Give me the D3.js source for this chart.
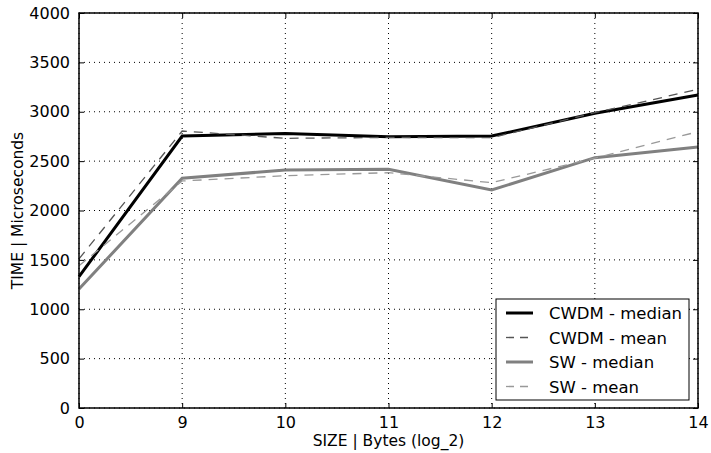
<!DOCTYPE html>
<html>
<head>
<meta charset="utf-8">
<script src="https://cdn.jsdelivr.net/npm/d3@7"></script>
<style>
  body { margin: 0; background: #fff; }
  svg { display: block; font-family: "DejaVu Sans", sans-serif; }
</style>
</head>
<body>
<div id="chart"></div>
<script>
// message size categories (log_2 bytes)
const sizes = ["0", "9", "10", "11", "12", "13", "14"];
const cwdmMedian = [1330, 2754, 2781, 2747, 2754, 2984, 3170];
const cwdmMean   = [1510, 2805, 2731, 2740, 2737, 2990, 3227];
const swMedian   = [1205, 2326, 2410, 2417, 2208, 2535, 2643];
const swMean     = [1440, 2299, 2352, 2383, 2282, 2530, 2798];
const yTicks = [0, 500, 1000, 1500, 2000, 2500, 3000, 3500, 4000];

const series = [
  { name: "CWDM - median", values: cwdmMedian, color: "#000000", width: 3, dash: null },
  { name: "CWDM - mean",   values: cwdmMean,   color: "#555555", width: 1.3, dash: "9,7" },
  { name: "SW - median",   values: swMedian,   color: "#808080", width: 3, dash: null },
  { name: "SW - mean",     values: swMean,     color: "#999999", width: 1.3, dash: "9,7" }
];

const width = 711, height = 453;
const margin = { top: 13, right: 13, bottom: 45, left: 79 };
const innerW = width - margin.left - margin.right;
const innerH = height - margin.top - margin.bottom;

const svg = d3.select("#chart").append("svg")
  .attr("width", width)
  .attr("height", height);

const g = svg.append("g")
  .attr("transform", `translate(${margin.left},${margin.top})`);

const x = d3.scalePoint().domain(sizes).range([0, innerW]);
const y = d3.scaleLinear().domain([0, 4000]).range([innerH, 0]);

// dotted grid
g.append("g")
  .selectAll("line.hgrid")
  .data(yTicks)
  .enter().append("line")
  .attr("x1", 0).attr("x2", innerW)
  .attr("y1", d => y(d)).attr("y2", d => y(d))
  .attr("stroke", "#000")
  .attr("stroke-width", 1)
  .attr("stroke-dasharray", "1,4");

g.append("g")
  .selectAll("line.vgrid")
  .data(sizes)
  .enter().append("line")
  .attr("x1", d => x(d)).attr("x2", d => x(d))
  .attr("y1", 0).attr("y2", innerH)
  .attr("stroke", "#000")
  .attr("stroke-width", 1)
  .attr("stroke-dasharray", "1,4");

// lines
const line = d3.line()
  .x((d, i) => x(sizes[i]))
  .y(d => y(d));

series.forEach(s => {
  g.append("path")
    .datum(s.values)
    .attr("fill", "none")
    .attr("stroke", s.color)
    .attr("stroke-width", s.width)
    .attr("stroke-dasharray", s.dash)
    .attr("d", line);
});

// axes with inward ticks
const axisFont = "16px";
g.append("g")
  .attr("transform", `translate(0,${innerH})`)
  .call(d3.axisBottom(x).tickSizeInner(-5).tickSizeOuter(0).tickPadding(9));
g.append("g")
  .call(d3.axisLeft(y).tickValues(yTicks).tickFormat(d3.format("d"))
    .tickSizeInner(-5).tickSizeOuter(0).tickPadding(9));
g.append("g")
  .call(d3.axisTop(x).tickSizeInner(-5).tickSizeOuter(0).tickFormat(""));
g.append("g")
  .attr("transform", `translate(${innerW},0)`)
  .call(d3.axisRight(y).tickValues(yTicks).tickSizeInner(-5).tickSizeOuter(0).tickFormat(""));

g.selectAll(".domain").attr("stroke", "none");
g.selectAll(".tick line").attr("stroke", "#000").attr("stroke-width", 1);
g.selectAll(".tick text")
  .attr("fill", "#000")
  .style("font-family", "DejaVu Sans")
  .style("font-size", axisFont);

// frame
g.append("rect")
  .attr("width", innerW).attr("height", innerH)
  .attr("fill", "none")
  .attr("stroke", "#000")
  .attr("stroke-width", 1.5);

// axis labels
svg.append("text")
  .attr("x", margin.left + innerW / 2)
  .attr("y", 446)
  .attr("text-anchor", "middle")
  .style("font-size", "15.5px")
  .text("SIZE | Bytes (log_2)");

svg.append("text")
  .attr("transform", `translate(23,${margin.top + innerH / 2}) rotate(-90)`)
  .attr("text-anchor", "middle")
  .style("font-size", "15.5px")
  .text("TIME | Microseconds");

// legend
const legend = svg.append("g")
  .attr("transform", "translate(496,299)");
legend.append("rect")
  .attr("width", 193).attr("height", 101)
  .attr("fill", "#fff")
  .attr("stroke", "#000")
  .attr("stroke-width", 1);

series.forEach((s, i) => {
  const ly = 14 + i * 24.5;
  legend.append("line")
    .attr("x1", 10).attr("x2", 37)
    .attr("y1", ly).attr("y2", ly)
    .attr("stroke", s.color)
    .attr("stroke-width", s.width)
    .attr("stroke-dasharray", s.dash ? "8,6" : null);
  legend.append("text")
    .attr("x", 53)
    .attr("y", ly + 6)
    .style("font-size", "16.5px")
    .text(s.name);
});
</script>
</body>
</html>
